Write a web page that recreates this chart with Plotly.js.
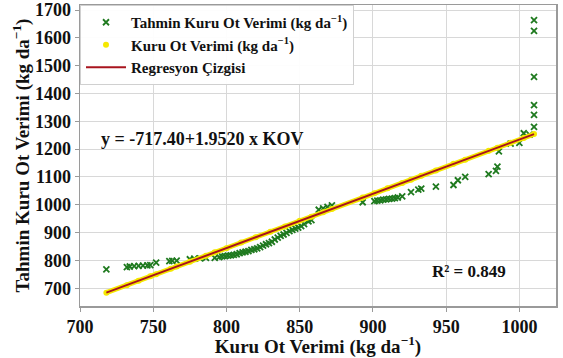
<!DOCTYPE html>
<html>
<head>
<meta charset="utf-8">
<script src="https://cdn.plot.ly/plotly-3.0.1.min.js"></script>
<style>html,body{margin:0;padding:0;background:#fff;}#chart{width:563px;height:358px;}</style>
</head>
<body>
<div id="chart"></div>
<script>
// Tahmin (predicted) values - green x markers
const tahminX = [718,
  732,734,737,740,743,746,748,
  752,
  761,763,766,
  775,778,782,786,
  792,795,797,799,801,803,805,807,809,811,813,815,817,819,821,823,825,827,829,831,833,835,837,839,841,843,845,847,849,851,853,856,858,
  863,866,869,872,
  893,
  901,903,905,907,909,911,913,915,917,920,
  926,931,933,
  943,
  955,958,963,
  979,984,985,
  986,
  994,1000,1003,1007,
  1010,1010,1010,1010,1010,1010];
const tahminY = [768,
  776,778,779,780,781,782,783,
  792,
  797,798,799,
  804,806,807,809,
  809,812,814,815,817,818,820,822,826,829,831,833,838,840,843,848,853,858,862,867,875,882,888,893,899,905,910,914,918,923,930,940,945,
  982,987,992,998,
  1009,
  1013,1015,1016,1018,1019,1021,1022,1024,1026,1030,
  1045,1054,1058,
  1065,
  1071,1088,1100,
  1110,1122,1137,
  1192,
  1220,1222,1257,1252,
  1280,1323,1358,1460,1625,1664];

// Kuru Ot Verimi - yellow points (lie along the fitted line)
const kuruX = [718,732,740,748,752,762,766,775,786,792,800,810,820,830,840,850,858,866,872,893,901,910,920,926,933,943,955,963,979,985,994,1003,1010];
const kuruY = [684,711,727,743,750,770,778,795,817,829,844,864,883,903,922,942,957,973,985,1026,1041,1059,1078,1090,1104,1123,1147,1162,1194,1205,1223,1240,1254];

// Regression line endpoints
const regX = [718, 1010];
const regY = [684, 1254];

const xTicks = [700,750,800,850,900,950,1000];
const yTicks = [700,800,900,1000,1100,1200,1300,1400,1500,1600,1700];

const serif = '"Liberation Serif", "Times New Roman", serif';
const dark = '#111';

const traces = [
  {x: tahminX, y: tahminY, type: 'scatter', mode: 'markers',
   name: 'Tahmin Kuru Ot Verimi (kg da<sup>−1</sup>)',
   marker: {symbol: 'x-thin', size: 6, color: '#1f7a1f', line: {color: '#1f7a1f', width: 1.8}}},
  {x: kuruX, y: kuruY, type: 'scatter', mode: 'lines', showlegend: false, hoverinfo: 'skip',
   line: {color: '#f5e800', width: 5}},
  {x: kuruX, y: kuruY, type: 'scatter', mode: 'markers',
   name: 'Kuru Ot Verimi (kg da<sup>−1</sup>)',
   marker: {symbol: 'circle', size: 6, color: '#f5e800'}},
  {x: regX, y: regY, type: 'scatter', mode: 'lines',
   name: 'Regresyon Çizgisi',
   line: {color: '#a8141e', width: 2}}
];

const layout = {
  width: 563, height: 358,
  margin: {l: 80, r: 7, t: 5, b: 52},
  paper_bgcolor: '#fff', plot_bgcolor: '#fff',
  font: {family: serif, color: dark, size: 15},
  showlegend: true,
  legend: {x: 0.0, y: 1.0, xanchor: 'left', yanchor: 'top',
    bgcolor: 'rgba(255,255,255,0.95)', bordercolor: '#d0d0d0', borderwidth: 1,
    font: {family: serif, size: 15, color: dark, weight: 'bold'},
    itemwidth: 40, tracegroupgap: 4},
  xaxis: {range: [700, 1025], tickvals: xTicks, ticktext: xTicks.map(String),
    showgrid: true, gridcolor: '#d8d8d8', gridwidth: 1, zeroline: false,
    showline: true, linecolor: '#9a9a9a', linewidth: 1.5, mirror: true,
    ticks: 'outside', ticklen: 4, tickcolor: '#9a9a9a',
    tickfont: {family: serif, size: 18, weight: 'bold', color: dark},
    title: {text: 'Kuru Ot Verimi (kg da<sup>−1</sup>)', standoff: 0,
      font: {family: serif, size: 19, weight: 'bold', color: dark}}},
  yaxis: {range: [636, 1718], tickvals: yTicks, ticktext: yTicks.map(String),
    showgrid: true, gridcolor: '#d8d8d8', gridwidth: 1, zeroline: false,
    showline: true, linecolor: '#9a9a9a', linewidth: 1.5, mirror: true,
    ticks: 'outside', ticklen: 4, tickcolor: '#9a9a9a',
    tickfont: {family: serif, size: 18, weight: 'bold', color: dark},
    title: {text: 'Tahmin Kuru Ot Verimi (kg da<sup>−1</sup>)', standoff: 0,
      font: {family: serif, size: 19, weight: 'bold', color: dark}}},
  annotations: [
    {x: 0.04, y: 0.555, xref: 'paper', yref: 'paper', xanchor: 'left', yanchor: 'middle',
     text: 'y = -717.40+1.9520 x KOV', showarrow: false,
     font: {family: serif, size: 18, weight: 'bold', color: dark}},
    {x: 0.735, y: 0.115, xref: 'paper', yref: 'paper', xanchor: 'left', yanchor: 'middle',
     text: 'R² = 0.849', showarrow: false,
     font: {family: serif, size: 17, weight: 'bold', color: dark}}
  ]
};

Plotly.newPlot('chart', traces, layout, {staticPlot: true, displayModeBar: false});
</script>
</body>
</html>
